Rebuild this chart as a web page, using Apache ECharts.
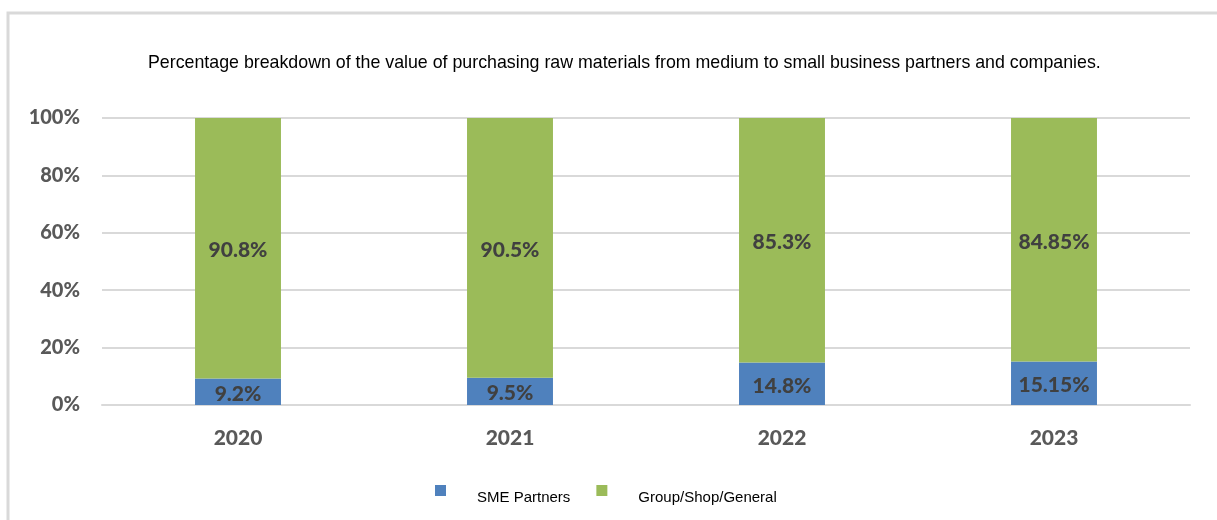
<!DOCTYPE html>
<html>
<head>
<meta charset="utf-8">
<script src="https://cdn.jsdelivr.net/npm/echarts@6/dist/echarts.min.js"></script>
<style>
  html, body { margin: 0; padding: 0; background: #ffffff; }
  #chart { width: 1217px; height: 520px; }
</style>
</head>
<body>
<div id="chart"></div>
<script>
// Purchasing value split between SME partners and group/shop/general suppliers
const years = ['2020', '2021', '2022', '2023'];
const smeShare = [9.2, 9.5, 14.8, 15.15];
const groupShare = [90.8, 90.5, 85.3, 84.85];
const yTicks = [0, 20, 40, 60, 80, 100];

const titleText = 'Percentage breakdown of the value of purchasing raw materials from medium to small business partners and companies.';
const seriesNames = ['SME Partners', 'Group/Shop/General'];

const chart = echarts.init(document.getElementById('chart'), null, { renderer: 'canvas' });

const labelStyle = {
  show: true,
  position: 'inside',
  offset: [0, 2],
  fontFamily: 'Lato',
  fontWeight: 900,
  fontSize: 21,
  color: '#404040',
  formatter: p => p.value + '%'
};

chart.setOption({
  animation: false,
  backgroundColor: '#ffffff',
  graphic: [
    {
      type: 'rect',
      shape: { x: 8, y: 13, width: 1240, height: 540 },
      style: { fill: 'none', stroke: '#d9d9d9', lineWidth: 3 },
      silent: true
    }
  ],
  title: {
    text: titleText,
    left: 143,
    top: 49,
    textStyle: {
      fontFamily: 'Liberation Sans',
      fontWeight: 'normal',
      fontSize: 17.8,
      color: '#000000'
    }
  },
  legend: {
    left: 430,
    top: 480,
    itemWidth: 11,
    itemHeight: 11,
    itemGap: 26,
    icon: 'rect',
    data: seriesNames,
    formatter: name => '{t|' + name + '}',
    textStyle: {
      fontFamily: 'Liberation Sans',
      fontSize: 15,
      color: '#000000',
      rich: {
        t: {
          fontFamily: 'Liberation Sans',
          fontSize: 15,
          color: '#000000',
          padding: [15, 0, 0, 26]
        }
      }
    }
  },
  grid: {
    left: 102,
    right: 27,
    top: 118,
    bottom: 115,
    containLabel: false
  },
  xAxis: {
    type: 'category',
    data: years,
    axisLine: { show: true, lineStyle: { color: '#d9d9d9', width: 2 } },
    axisTick: { show: false },
    axisLabel: {
      fontFamily: 'Lato',
      fontWeight: 900,
      fontSize: 21,
      color: '#595959',
      margin: 23
    }
  },
  yAxis: {
    type: 'value',
    min: yTicks[0],
    max: yTicks[yTicks.length - 1],
    interval: 20,
    axisLine: { show: false },
    axisTick: { show: false },
    splitLine: { lineStyle: { color: '#d9d9d9', width: 2 } },
    axisLabel: {
      fontFamily: 'Lato',
      fontWeight: 900,
      fontSize: 20,
      color: '#595959',
      margin: 22,
      formatter: v => v + '%'
    }
  },
  series: [
    {
      name: seriesNames[0],
      type: 'bar',
      stack: 'share',
      data: smeShare,
      barWidth: '31.6%',
      itemStyle: { color: '#4f81bd' },
      label: labelStyle
    },
    {
      name: seriesNames[1],
      type: 'bar',
      stack: 'share',
      data: groupShare,
      barWidth: '31.6%',
      itemStyle: { color: '#9bbb59' },
      label: labelStyle
    }
  ]
});
</script>
</body>
</html>
